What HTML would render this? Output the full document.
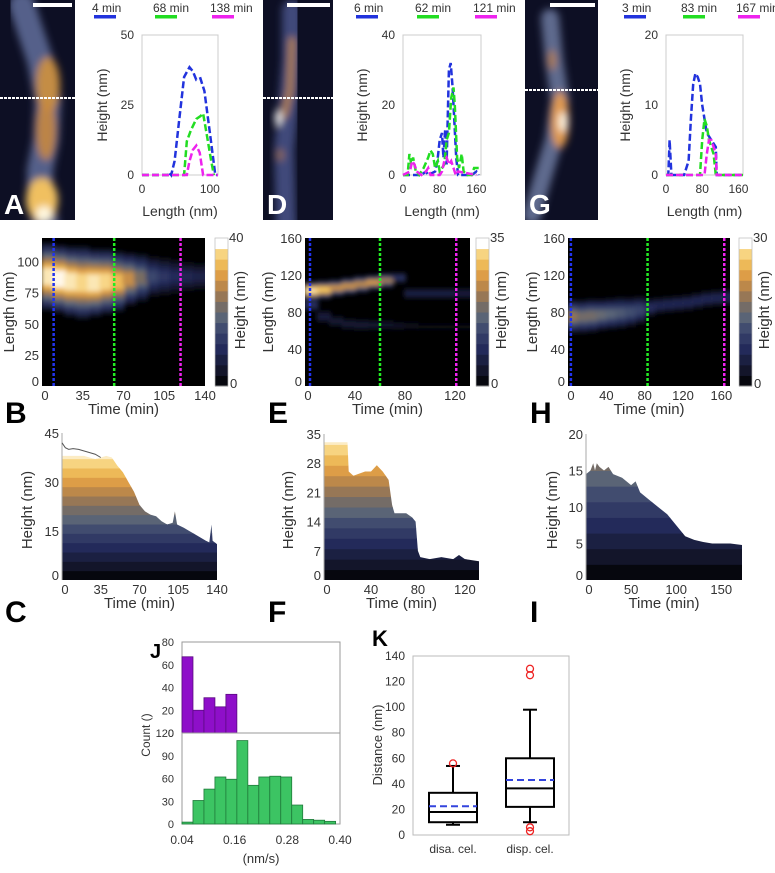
<!DOCTYPE html>
<html><head><meta charset="utf-8"><style>
html,body{margin:0;padding:0;background:#fff;}
svg{display:block;font-family:"Liberation Sans",sans-serif;}
</style></head><body>
<svg id="fig" width="775" height="873" viewBox="0 0 775 873">
<defs>
<filter id="blur2" x="-20%" y="-20%" width="140%" height="140%"><feGaussianBlur stdDeviation="2.5"/></filter>
<filter id="blur4" x="-30%" y="-30%" width="160%" height="160%"><feGaussianBlur stdDeviation="4"/></filter>
</defs>
<rect width="775" height="873" fill="#fff"/>
</svg>
<script>
// ---------- DATA ----------
const profA_blue=[[0,0],[38,0],[40,1],[43,0],[48,5],[55,20],[62,35],[70,38.5],[75,37],[80,34],[86,34.5],[92,30],[100,15],[108,0],[112,0]];
const profA_green=[[0,0],[60,0],[62,0],[66,12],[72,16],[80,20],[86,21],[90,22],[95,15],[102,5],[106,0]];
const profA_mag=[[0,0],[66,0],[70,5],[75,9],[80,10.5],[85,8],[90,0],[112,0]];
const profD_blue=[[0,0],[40,0],[50,1],[55,0],[70,1],[75,4],[80,10],[85,12],[88,5],[92,13],[95,3],[100,30],[104,32],[108,25],[112,15],[116,5],[120,0],[150,0],[160,1],[165,0]];
const profD_green=[[0,0],[10,0],[14,6],[18,3],[22,5],[28,1],[35,0],[45,2],[55,5],[60,7],[65,6],[70,2],[76,4],[80,1],[90,3],[95,10],[100,12],[105,22],[110,25],[113,20],[118,5],[122,2],[128,6],[132,1],[140,0],[150,0],[155,2],[165,2]];
const profD_mag=[[0,0],[15,1],[20,4],[25,3],[30,1],[40,0],[50,1],[55,2],[60,0],[80,0],[85,1],[90,4],[95,5],[100,3],[105,4],[110,2],[115,0],[120,1],[160,0]];
const profG_blue=[[0,0],[5,0],[8,5],[12,0],[40,0],[50,2],[55,8],[60,13],[65,14.5],[70,14],[75,13],[80,10],[85,8],[90,6],[100,5],[110,4],[112,0],[170,0]];
const profG_green=[[0,0],[75,0],[80,5],[85,8],[90,7],[95,5],[100,4],[105,3],[110,0],[170,0]];
const profG_mag=[[0,0],[85,0],[90,3],[95,5],[100,5],[105,4],[110,3],[112,0],[170,0]];
const legA=["4 min","68 min","138 min"], legD=["6 min","62 min","121 min"], legG=["3 min","83 min","167 min"];
const kymB_t=[0,10,20,30,40,50,60,70,80,90,100,110,120,130,140];
const kymB_c=[88,86,84,83,83,84,84,86,87,88,88,88,88,88,89];
const kymB_hw=[27,27,28,29,27,26,24,21,19,16,15,14,12,11,11];
const kymB_pk=[38,40,38,36,38,36,33,28,22,15,12,10,9,8,8];
const kymE_t=[0,10,20,30,40,50,60,70,80,90,100,110,120,132];
const kymE_c=[103,104,106,108,110,112,114,117,100,100,100,100,100,100];
const kymE_hw=[10,10,9,9,9,8,8,6,6,6,6,6,6,6];
const kymE_pk=[33,30,25,25,24,26,22,10,7,7,7,7,6,6];
const kymE2_c=[88,75,70,67,66,66,66,65,65,64,64,64,64,64];
const kymE2_pk=[10,6,5,5,5,5,4,4,3,2,2,2,2,2];
const kymH_t=[0,10,20,30,40,50,60,70,80,90,100,110,120,130,140,150,160,169];
const kymH_c=[75,75,76,77,78,79,80,82,85,87,88,89,90,92,94,95,96,96];
const kymH_hw=[18,18,18,17,17,17,16,15,10,9,9,9,9,9,9,9,9,9];
const kymH_pk=[18,16,16,15,14,13,12,11,8,7,7,7,7,7,7,7,7,7];
const markB=[10,62,119], markE=[4,60,121], markH=[3,83,163];
const areaC_t=[0,10,20,30,40,45,50,55,60,65,70,75,80,85,90,95,100,102,104,110,115,120,125,130,133,135,136,140];
const areaC_h=[38,38,38,37,38,37.5,35,33,30,27,23,21,20,19.5,18,17,17.5,21,17,16,15,14,13,12,11.5,17,12,11];
const lineC_t=[0,3,6,10,15,20,25,30,35];
const lineC_h=[42,40.5,40,40.2,40,39.5,39,38.5,37.5];
const areaF_t=[0,10,20,21,25,30,35,40,45,50,55,58,60,65,70,75,78,80,82,90,100,110,115,120,132];
const areaF_h=[33,33,33,26,25,25.5,26,26,27.5,26,24,18,16,16,16,15,14,7,5.5,5,5.5,5,6,5,4.5];
const areaI_t=[0,5,8,10,12,15,20,25,30,40,50,55,60,70,80,90,100,110,120,130,140,150,160,173];
const areaI_h=[14.5,15,16,15,16,15.5,15,15.5,14.5,14,13,13.5,12,11,10,9,7.5,6,5.5,5.2,5,5,5,4.8];
const histBinStart=0.04, histBinW=0.025;
const histTop=[67,20,31,23,34];
const histBottom=[2.5,31,46,62,59,110,51,62,63,62,25,6,5,3.5];
const histXTicks=[0.04,0.16,0.28,0.40];
const histTopTicks=[0,20,40,60,80], histBotTicks=[0,30,60,90,120];
const boxCats=["disa. cel.","disp. cel."];
const boxQ1=[10,22], boxMed=[18,36.5], boxQ3=[33,60], boxMean=[22.5,43];
const boxWLo=[8,10], boxWHi=[54,98];
const boxOut=[[56],[125,130,3,6]];
const boxYTicks=[0,20,40,60,80,100,120,140];

// ---------- HELPERS ----------
const NS='http://www.w3.org/2000/svg';
const svg=document.getElementById('fig');
function mk(tag,attrs,parent){const e=document.createElementNS(NS,tag);for(const k in attrs)e.setAttribute(k,attrs[k]);(parent||svg).appendChild(e);return e;}
function txt(x,y,s,size,anchor,name,parent,rot,weight,fill){
  const t=mk('text',{x:x,y:y,'font-size':size,'text-anchor':anchor||'middle',fill:fill||'#333'},parent);
  if(weight)t.setAttribute('font-weight',weight);
  if(rot)t.setAttribute('transform','rotate(-90 '+x+' '+y+')');
  t.textContent=s;
  
  
  return t;}
const stops=[[0,[0,0,0]],[0.1,[18,20,40]],[0.25,[35,42,90]],[0.38,[60,72,110]],[0.48,[95,105,120]],[0.56,[125,110,95]],[0.66,[180,130,75]],[0.76,[225,160,70]],[0.86,[245,200,100]],[0.94,[250,228,170]],[1,[255,248,235]]];
function cmap(f){f=Math.max(0,Math.min(1,f));for(let i=1;i<stops.length;i++){if(f<=stops[i][0]){const a=stops[i-1],b=stops[i];const u=(f-a[0])/(b[0]-a[0]);const c=a[1].map((v,j)=>Math.round(v+(b[1][j]-v)*u));return 'rgb('+c.join(',')+')';}}return 'rgb(255,248,235)';}

// ---------- AFM IMAGES ----------
function afm(x0,w,name,letter,lineY,bar,shapes){
  const g=mk('g',{});
  
  
  const cid='c'+letter;
  const cp=mk('clipPath',{id:cid},svg.querySelector('defs'));
  mk('rect',{x:x0,y:0,width:w,height:220},cp);
  mk('rect',{x:x0,y:0,width:w,height:220,fill:'#0d0f24'},g);
  const inner=mk('g',{'clip-path':'url(#'+cid+')'},g);
  const bl=mk('g',{filter:'url(#blur4)'},inner);
  shapes.forEach(s=>{ if(s[0]==='p') mk('polyline',{points:s[1],fill:'none',stroke:s[2],'stroke-width':s[3],'stroke-linecap':'round','stroke-linejoin':'round',opacity:s[4]||1},bl); else mk('ellipse',{cx:s[1],cy:s[2],rx:s[3],ry:s[4],fill:s[5],opacity:s[6]||1},bl);});
  const sb=mk('rect',{x:bar[0],y:3,width:bar[1]-bar[0],height:4,fill:'#fff'},g);
  
  
  const dl=mk('line',{x1:x0,x2:x0+w,y1:lineY,y2:lineY,stroke:'#fff','stroke-width':2,'stroke-dasharray':'3 1'},g);
  
  
  txt(x0+4,214,letter,28,'start','panel-label-'+letter.toLowerCase(),g,0,'bold','#fff');
}
afm(0,75,'afm-image-a','A',98,[33,72],[
 ['p','22,5 30,30 40,60 48,100 46,140 40,170 40,200 46,225','#55608a',26],
 ['e',48,85,12,28,'#d0923c',0.9],['e',46,130,10,30,'#c8883e',0.9],['e',42,200,16,22,'#f0c060'],['e',44,214,8,8,'#fff8e0']]);
afm(263,70,'afm-image-d','D',98,[287,330],[
 ['p','292,10 292,60 288,110 284,150 286,225','#404a7a',20],
 ['p','292,40 290,90 284,115','#b8844a',6],['e',278,118,3,8,'#fff',1],['e',280,155,4,6,'#a07050',0.8]]);
afm(525,73,'afm-image-g','G',90,[550,595],[
 ['p','550,18 554,60 560,100 554,140 542,180 532,215','#5f6a8e',18],
 ['e',560,120,9,28,'#e09a50'],['e',563,122,4,10,'#fffae8'],['e',552,60,4,10,'#c08040',0.8]]);

// ---------- PROFILE PLOTS ----------
function profile(cfg){
  const g=mk('g',{});
  
  
  const X=v=>cfg.x0+(cfg.x1-cfg.x0)*v/cfg.xmax, Y=v=>cfg.y1-(cfg.y1-cfg.y0)*v/cfg.ymax;
  const fr=mk('rect',{x:cfg.x0,y:cfg.y0,width:cfg.x1-cfg.x0,height:cfg.y1-cfg.y0,fill:'none',stroke:'#ccc','stroke-width':1},g);
  
  
  cfg.yt.forEach(v=>txt(cfg.x0-8,Y(v)+4,String(v),12,'end','y-tick-label',g));
  cfg.xt.forEach(v=>txt(X(v),193,String(v),12,'middle','x-tick-label',g));
  txt((cfg.x0+cfg.x1)/2,216,'Length (nm)',14,'middle','x-axis-title',g);
  txt(cfg.ylx,105,'Height (nm)',14,'middle','y-axis-title',g,1);
  const cols=['#2233dd','#22dd22','#ee22ee'];
  cfg.series.forEach((s,i)=>{
    const p=mk('polyline',{points:s.map(d=>X(d[0]).toFixed(1)+','+Y(d[1]).toFixed(1)).join(' '),fill:'none',stroke:cols[i],'stroke-width':2.5,'stroke-dasharray':'7 3'},g);
    
    
    txt(cfg.lx[i],12,cfg.leg[i],12,'start','legend-label',g);
    const lb=mk('rect',{x:cfg.lx[i]+2,y:15,width:22,height:3.5,fill:cols[i]},g);
    
    
  });
}
profile({name:'profile-plot-a',x0:142,x1:218,y0:35,y1:175,xmax:112,ymax:50,yt:[0,25,50],xt:[0,100],ylx:107,series:[profA_blue,profA_green,profA_mag],leg:legA,lx:[92,153,210]});
profile({name:'profile-plot-d',x0:403,x1:481,y0:35,y1:175,xmax:170,ymax:40,yt:[0,20,40],xt:[0,80,160],ylx:367,series:[profD_blue,profD_green,profD_mag],leg:legD,lx:[354,415,473]});
profile({name:'profile-plot-g',x0:666,x1:743,y0:35,y1:175,xmax:170,ymax:20,yt:[0,10,20],xt:[0,80,160],ylx:630,series:[profG_blue,profG_green,profG_mag],leg:legG,lx:[622,681,736]});

// ---------- KYMOGRAPHS ----------
function kymo(cfg){
  const g=mk('g',{});
  
  
  const X=v=>cfg.x0+(cfg.x1-cfg.x0)*v/cfg.xmax, Y=v=>cfg.y1-(cfg.y1-cfg.y0)*v/cfg.ymax;
  const cid='k'+cfg.letter;
  const cp=mk('clipPath',{id:cid},svg.querySelector('defs'));
  mk('rect',{x:cfg.x0,y:cfg.y0,width:cfg.x1-cfg.x0,height:cfg.y1-cfg.y0},cp);
  const bg=mk('rect',{x:cfg.x0,y:cfg.y0,width:cfg.x1-cfg.x0,height:cfg.y1-cfg.y0,fill:'#000'},g);
  
  
  const inner=mk('g',{'clip-path':'url(#'+cid+')'},g);
  const bl=mk('g',{filter:'url(#blur2)'},inner);
  cfg.bands.forEach(b=>{
    for(let k=1;k<=6;k++){
      const f=k/6;
      for(let i=0;i<cfg.t.length;i++){
        const ta=cfg.t[i], tb=i+1<cfg.t.length?cfg.t[i+1]:cfg.xmax+5;
        const hw=b.hw[i]*(1.15-f*0.9);
        const r=mk('rect',{x:X(ta)-1,width:X(tb)-X(ta)+2,y:Y(b.c[i]+hw),height:Y(b.c[i]-hw)-Y(b.c[i]+hw),fill:cmap(b.pk[i]*f/cfg.cmax)},bl);
        
        
      }
    }
  });
  const mc=['#2233ee','#22ee22','#ee22ee'];
  cfg.marks.forEach((m,i)=>{
    const l=mk('line',{x1:X(m),x2:X(m),y1:cfg.y0,y2:cfg.y1,stroke:mc[i],'stroke-width':2.5,'stroke-dasharray':'3 2'},g);
    
    
  });
  cfg.yt.forEach(v=>txt(cfg.x0-3,Y(v)+(v===0?0:5),String(v),13,'end','y-tick-label',g));
  cfg.xt.forEach(v=>txt(X(v)+(v===0?3:0),cfg.y1+14,String(v),13,'middle','x-tick-label',g));
  txt((cfg.x0+cfg.x1)/2,cfg.y1+28,'Time (min)',15,'middle','x-axis-title',g);
  txt(cfg.lyx,312,'Length (nm)',15,'middle','y-axis-title',g,1);
  const n=14, cx=cfg.cb, ct=238, cb=386, bh=(cb-ct)/n;
  for(let i=0;i<n;i++){
    const r=mk('rect',{x:cx,y:cb-(i+1)*bh,width:13,height:bh+0.5,fill:i===n-1?'#fff':cmap((i+0.5)/n)},g);
    
    
  }
  mk('rect',{x:cx,y:ct,width:13,height:cb-ct,fill:'none',stroke:'#bbb','stroke-width':0.7},g);
  txt(cx+14,ct+4,String(cfg.cmax),13,'start','colorbar-max-label',g);
  txt(cx+15,cb+2,'0',13,'start','colorbar-min-label',g);
  txt(cx+30,310,'Height (nm)',15,'middle','colorbar-title',g,1);
  txt(cfg.lx,423,cfg.letter,30,'start','panel-label-'+cfg.letter.toLowerCase(),g,0,'bold','#000');
}
kymo({name:'kymograph-b',letter:'B',x0:42,x1:205,y0:238,y1:386,xmax:140,ymax:119,cmax:40,t:kymB_t,bands:[{c:kymB_c,hw:kymB_hw,pk:kymB_pk}],marks:markB,yt:[0,25,50,75,100],xt:[0,35,70,105,140],lyx:14,cb:215,lx:5});
kymo({name:'kymograph-e',letter:'E',x0:305,x1:470,y0:238,y1:386,xmax:132,ymax:160,cmax:35,t:kymE_t,bands:[{c:kymE2_c,hw:kymE_hw.map(v=>v*0.7),pk:kymE2_pk},{c:kymE_c,hw:kymE_hw,pk:kymE_pk}],marks:markE,yt:[0,40,80,120,160],xt:[0,40,80,120],lyx:273,cb:476,lx:268});
kymo({name:'kymograph-h',letter:'H',x0:568,x1:730,y0:238,y1:386,xmax:169,ymax:160,cmax:30,t:kymH_t,bands:[{c:kymH_c,hw:kymH_hw,pk:kymH_pk}],marks:markH,yt:[0,40,80,120,160],xt:[0,40,80,120,160],lyx:537,cb:739,lx:530});

// ---------- HEIGHT VS TIME AREAS ----------
function area(cfg){
  const g=mk('g',{});
  
  
  const X=v=>cfg.x0+(cfg.x1-cfg.x0)*v/cfg.xmax, Y=v=>cfg.y1-(cfg.y1-cfg.y0)*v/cfg.ymax;
  const cid='a'+cfg.letter;
  const cp=mk('clipPath',{id:cid},svg.querySelector('defs'));
  let d='M'+X(cfg.t[0])+','+Y(0);
  cfg.t.forEach((t,i)=>{d+=' L'+X(t).toFixed(1)+','+Y(cfg.h[i]).toFixed(1);});
  d+=' L'+X(cfg.t[cfg.t.length-1])+','+Y(0)+' Z';
  mk('path',{d:d},cp);
  const inner=mk('g',{'clip-path':'url(#'+cid+')'},g);
  
  
  const step=cfg.cmax/14;
  for(let lv=0;lv<cfg.ymax;lv+=step){
    const r=mk('rect',{x:cfg.x0,y:Y(lv+step),width:cfg.x1-cfg.x0,height:Y(lv)-Y(lv+step)+0.5,fill:cmap((lv+step*0.5)/cfg.cmax)},inner);
    
    
  }
  mk('line',{x1:cfg.x0,x2:cfg.x0,y1:cfg.y0,y2:cfg.y1,stroke:'#aaa','stroke-width':1},g);
  if(cfg.lt){
    const p=mk('polyline',{points:cfg.lt.map((t,i)=>X(t)+','+Y(cfg.lh[i])).join(' '),fill:'none',stroke:'#555','stroke-width':1},g);
    
    
  }
  cfg.yt.forEach(v=>txt(cfg.x0-3,Y(v)+(v===0?0:5),String(v),13,'end','y-tick-label',g));
  cfg.xt.forEach(v=>txt(X(v)+(v===0?3:0),cfg.y1+14,String(v),13,'middle','x-tick-label',g));
  txt((cfg.x0+cfg.x1)/2,cfg.y1+28,'Time (min)',15,'middle','x-axis-title',g);
  txt(cfg.lyx,510,'Height (nm)',15,'middle','y-axis-title',g,1);
  txt(cfg.lx,622,cfg.letter,30,'start','panel-label-'+cfg.letter.toLowerCase(),g,0,'bold','#000');
}
area({name:'height-time-c',letter:'C',x0:62,x1:217,y0:433,y1:580,xmax:140,ymax:45,cmax:40,t:areaC_t,h:areaC_h,lt:lineC_t,lh:lineC_h,yt:[0,15,30,45],xt:[0,35,70,105,140],lyx:32,lx:5});
area({name:'height-time-f',letter:'F',x0:324,x1:479,y0:434,y1:580,xmax:132,ymax:35,cmax:35,t:areaF_t,h:areaF_h,yt:[0,7,14,21,28,35],xt:[0,40,80,120],lyx:293,lx:268});
area({name:'height-time-i',letter:'I',x0:586,x1:742,y0:434,y1:580,xmax:173,ymax:20,cmax:30,t:areaI_t,h:areaI_h,yt:[0,5,10,15,20],xt:[0,50,100,150],lyx:557,lx:530});

// ---------- HISTOGRAMS J ----------
(function(){
  const g=mk('g',{});
  
  
  const x0=182,x1=340,xa=0.04,xb=0.40;
  const X=v=>x0+(x1-x0)*(v-xa)/(xb-xa);
  function panel(vals,top,bot,ymax,ticks,color,stroke,nm){
    const Y=v=>bot-(bot-top)*v/ymax;
    const fr=mk('rect',{x:x0,y:top,width:x1-x0,height:bot-top,fill:'none',stroke:'#999','stroke-width':1},g);
    
    
    vals.forEach((v,i)=>{
      const a=histBinStart+i*histBinW;
      const r=mk('rect',{x:X(a),y:Y(v),width:X(a+histBinW)-X(a),height:bot-Y(v),fill:color,stroke:stroke,'stroke-width':0.8},g);
      
      
    });
    ticks.forEach(v=>txt(x0-8,Y(v)+4,String(v),11,'end','y-tick-label',g));
  }
  panel(histTop,642,733,80,histTopTicks,'#8e0fc9','#5a0a80','top-hist');
  panel(histBottom,733,824,120,histBotTicks,'#3cc463','#1f7a3a','bottom-hist');
  histXTicks.forEach(v=>txt(X(v),844,v.toFixed(2),12,'middle','x-tick-label',g));
  txt(261,863,'(nm/s)',13,'middle','x-axis-title',g);
  txt(150,735,'Count ()',12,'middle','y-axis-title',g,1);
  txt(150,658,'J',20,'start','panel-label-j',g,0,'bold','#000');
})();

// ---------- BOX PLOT K ----------
(function(){
  const g=mk('g',{});
  
  
  const x0=413,x1=569,y0=656,y1=835;
  const Y=v=>y1-(y1-y0)*v/140;
  const cx=[453,530], bw=24;
  const fr=mk('rect',{x:x0,y:y0,width:x1-x0,height:y1-y0,fill:'none',stroke:'#bbb','stroke-width':1},g);
  
  
  boxYTicks.forEach(v=>txt(x0-8,Y(v)+4,String(v),12,'end','y-tick-label',g));
  txt(382,745,'Distance (nm)',13,'middle','y-axis-title',g,1);
  txt(372,646,'K',22,'start','panel-label-k',g,0,'bold','#000');
  boxCats.forEach((c,i)=>{
    txt(cx[i],853,c,12,'middle','category-label',g);
    const w1=mk('line',{x1:cx[i],x2:cx[i],y1:Y(boxWLo[i]),y2:Y(boxWHi[i]),stroke:'#000','stroke-width':2},g);
    
    
    [boxWLo[i],boxWHi[i]].forEach(v=>{
      const cap=mk('line',{x1:cx[i]-7,x2:cx[i]+7,y1:Y(v),y2:Y(v),stroke:'#000','stroke-width':2},g);
      
      
    });
    const b=mk('rect',{x:cx[i]-bw,y:Y(boxQ3[i]),width:2*bw,height:Y(boxQ1[i])-Y(boxQ3[i]),fill:'#fff',stroke:'#000','stroke-width':2},g);
    
    
    const md=mk('line',{x1:cx[i]-bw,x2:cx[i]+bw,y1:Y(boxMed[i]),y2:Y(boxMed[i]),stroke:'#000','stroke-width':2},g);
    
    
    const mn=mk('line',{x1:cx[i]-bw,x2:cx[i]+bw,y1:Y(boxMean[i]),y2:Y(boxMean[i]),stroke:'#3344dd','stroke-width':2,'stroke-dasharray':'7 4'},g);
    
    
    boxOut[i].forEach(v=>{
      const o=mk('circle',{cx:cx[i],cy:Y(v),r:3.5,fill:'none',stroke:'#ee2222','stroke-width':1.3},g);
      
      
    });
  });
})();
</script>
</body></html>
